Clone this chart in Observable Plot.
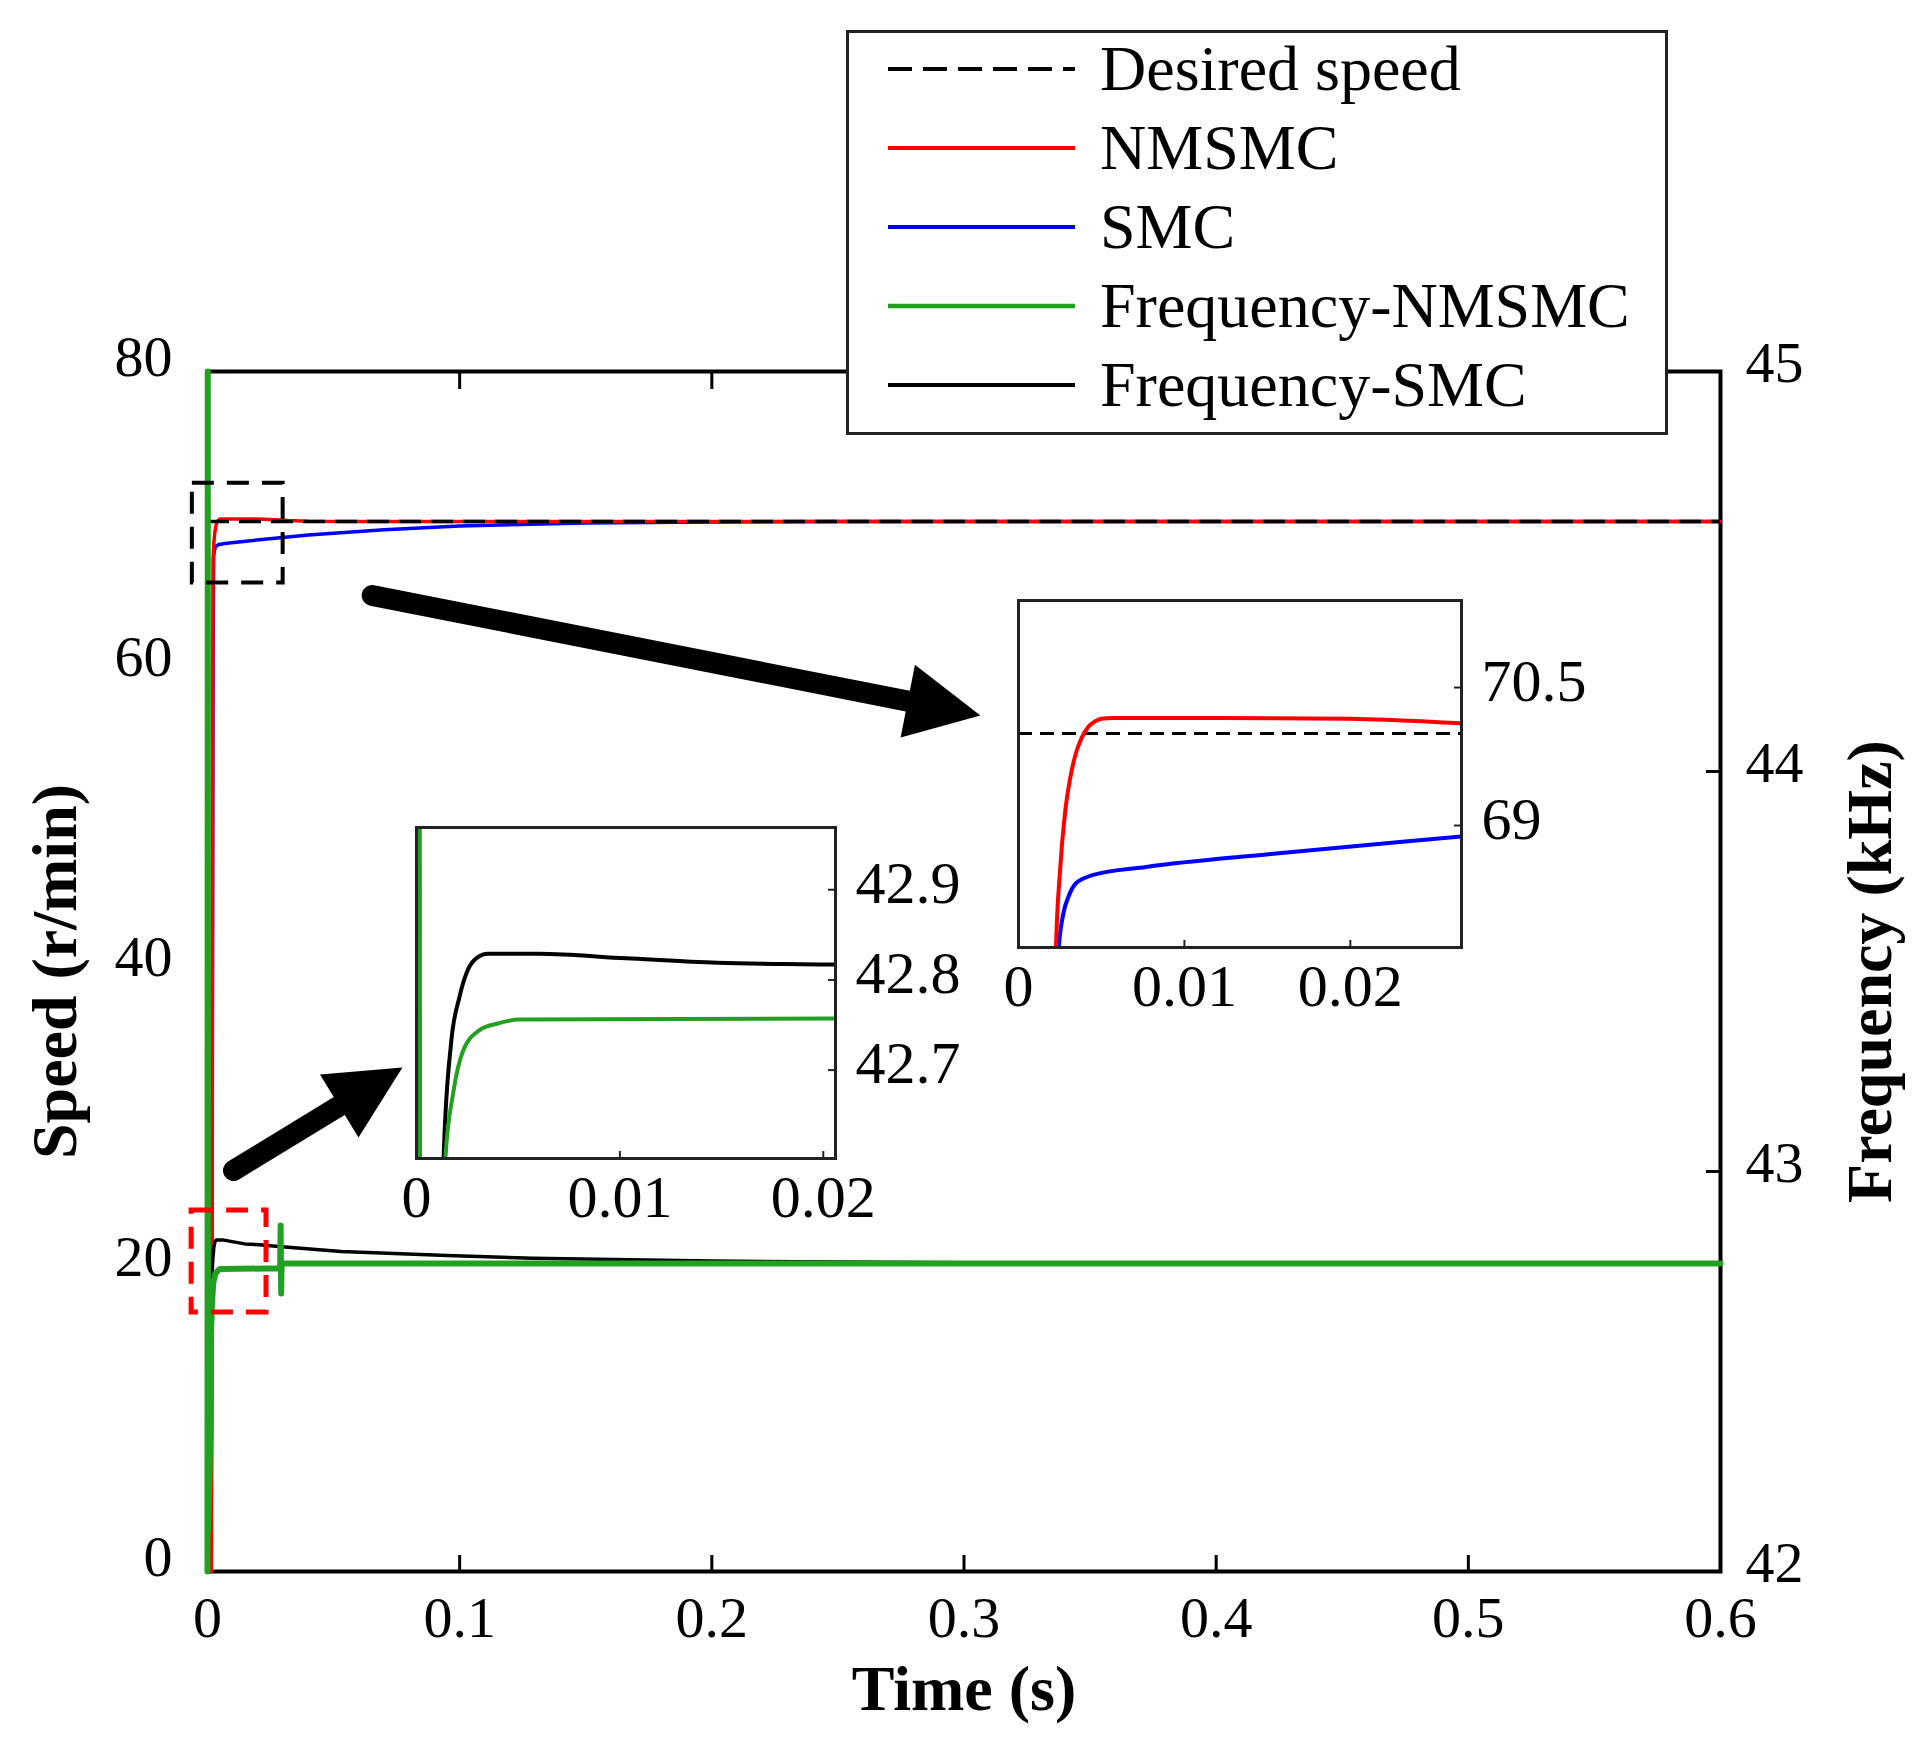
<!DOCTYPE html>
<html>
<head>
<meta charset="utf-8">
<script src="https://cdn.jsdelivr.net/npm/d3@7"></script>
<script src="https://cdn.jsdelivr.net/npm/@observablehq/plot@0.6"></script>
<style>
  body { margin: 0; background: #fff; }
  #wrap { position: relative; width: 1925px; height: 1750px; font-family: "Liberation Serif", "Times New Roman", serif; }
  #wrap svg { position: absolute; }
  #legend { position: absolute; left: 846px; top: 30px; width: 816px; height: 399px; border: 3px solid #222; background: #fff; }
  .legend-row { position: absolute; left: 0; height: 80px; display: flex; align-items: center; }
  .legend-row span { font-size: 64px; line-height: 80px; color: #000; }
</style>
</head>
<body>
<div id="wrap"></div>
<script>
// speed curves, [time (s), speed (r/min)]
const nmsmc = [
  [0, 0], [0.0015, 0], [0.0018, 25], [0.002, 50], [0.0021, 60], [0.0022, 66],
  [0.00225, 67.6], [0.0025, 68.5], [0.0028, 69.13], [0.0031, 69.5], [0.00345, 69.78],
  [0.0038, 69.95], [0.0042, 70.07], [0.0046, 70.13], [0.005, 70.16], [0.0057, 70.17],
  [0.012, 70.17], [0.02, 70.16], [0.0267, 70.11], [0.032, 70.06], [0.04, 70.02],
  [0.06, 70], [0.6, 70]
];
const smc = [
  [0, 0], [0.0015, 0], [0.0019, 30], [0.0022, 60], [0.0024, 67.6], [0.0027, 68.04],
  [0.003, 68.22], [0.00345, 68.37], [0.00445, 68.46], [0.0077, 68.55], [0.0152, 68.69],
  [0.0267, 68.88], [0.04, 69.1], [0.07, 69.45], [0.1, 69.7], [0.15, 69.9],
  [0.2, 69.97], [0.25, 70], [0.6, 70]
];
const desiredSpeed = 70;

// switching frequency curves, [time (s), frequency (kHz)]
const freqNmsmc = [
  [0, 42], [0.0001, 45], [0.0002, 42.1], [0.0012, 42.35], [0.00142, 42.602],
  [0.0018, 42.674], [0.0023, 42.722], [0.00308, 42.744], [0.00405, 42.752],
  [0.005, 42.756], [0.0288, 42.758], [0.029, 42.865], [0.0292, 42.695],
  [0.0294, 42.77], [0.6, 42.77]
];
const freqSmc = [
  [0, 42.43], [0.0012, 42.43], [0.00133, 42.6], [0.0017, 42.73], [0.0021, 42.78],
  [0.0025, 42.81], [0.003, 42.825], [0.0035, 42.829], [0.006, 42.829], [0.0103, 42.824],
  [0.0148, 42.819], [0.0206, 42.817], [0.027, 42.813], [0.053, 42.8], [0.095, 42.79],
  [0.129, 42.783], [0.2, 42.776], [0.3, 42.772], [0.6, 42.772]
];

// axes
const timeTicks = [0, 0.1, 0.2, 0.3, 0.4, 0.5, 0.6];
const speedTicks = [0, 20, 40, 60, 80];
const freqTicks = [42, 43, 44, 45];
const inset1TimeTicks = [0, 0.01, 0.02];
const inset1SpeedTicks = [69, 70.5];
const inset2TimeTicks = [0, 0.01, 0.02];
const inset2FreqTicks = [42.7, 42.8, 42.9];

// dashed zoom boxes and arrows, in data units (time, speed)
const speedZoomBox = {t1: -0.006, t2: 0.030, v1: 65.9, v2: 72.55};
const freqZoomBox = {t1: -0.0063, t2: 0.0234, v1: 17.27, v2: 24.07};
const arrowTails = [[0.0653, 65.07], [0.0103, 26.73]];
const arrowTips = [[0.3065, 57.07], [0.0773, 33.6]];

const seriesNames = ["Desired speed", "NMSMC", "SMC", "Frequency-NMSMC", "Frequency-SMC"];
const seriesColors = ["#000000", "#ff0000", "#0000ff", "#22a022", "#000000"];

const FONT = "Liberation Serif";
const GREEN = seriesColors[3];

// frequency (42..45 kHz) drawn against the speed scale (0..80)
const toLeft = (f) => ((f - 42) / 3) * 80;

const W = 1925, H = 1750;
const M = {left: 207, right: 205, top: 371, bottom: 179};
const plotW = W - M.left - M.right;
const plotH = H - M.top - M.bottom;
const kx = plotW / 0.6;
const ky = plotH / 80;

// arrow heads: base point and rotation worked out in pixel space
const HEAD = 74;
const arrows = arrowTails.map((tail, i) => {
  const tip = arrowTips[i];
  const dx = (tip[0] - tail[0]) * kx;
  const dy = -(tip[1] - tail[1]) * ky;
  const len = Math.hypot(dx, dy);
  const ux = dx / len, uy = dy / len;
  return {
    t1: tail[0], v1: tail[1],
    bt: tip[0] - (HEAD * ux) / kx,
    bv: tip[1] + (HEAD * uy) / ky,
    angle: (Math.atan2(ux, -uy) * 180) / Math.PI,
  };
});

const wrap = document.getElementById("wrap");

const main = Plot.plot({
  width: W,
  height: H,
  marginLeft: M.left,
  marginRight: M.right,
  marginTop: M.top,
  marginBottom: M.bottom,
  x: {domain: [0, 0.6]},
  y: {domain: [0, 80]},
  style: {fontFamily: FONT, background: "transparent", overflow: "visible", color: "#000"},
  marks: [
    Plot.frame({stroke: "#000", strokeWidth: 4}),
    Plot.line(smc, {x: (d) => d[0], y: (d) => d[1], stroke: seriesColors[2], strokeWidth: 3.5}),
    Plot.line(nmsmc, {x: (d) => d[0], y: (d) => d[1], stroke: seriesColors[1], strokeWidth: 3.5}),
    Plot.ruleY([desiredSpeed], {stroke: "#000", strokeWidth: 3.5, strokeDasharray: "22,10"}),
    Plot.line(freqSmc, {x: (d) => d[0], y: (d) => toLeft(d[1]), stroke: seriesColors[4], strokeWidth: 3.5}),
    Plot.line(freqNmsmc, {x: (d) => d[0], y: (d) => toLeft(d[1]), stroke: GREEN, strokeWidth: 6}),

    Plot.rect([speedZoomBox], {
      x1: "t1", x2: "t2", y1: "v1", y2: "v2",
      fill: "none", stroke: "#000", strokeWidth: 4, strokeDasharray: "22,13",
    }),
    Plot.rect([freqZoomBox], {
      x1: "t1", x2: "t2", y1: "v1", y2: "v2",
      fill: "none", stroke: "#ff0000", strokeWidth: 5, strokeDasharray: "22,13",
    }),

    Plot.link(arrows, {
      x1: "t1", y1: "v1", x2: "bt", y2: "bv",
      stroke: "#000", strokeWidth: 21, strokeLinecap: "round",
    }),
    Plot.vector(arrows, {
      x: "bt", y: "bv", rotate: "angle", length: HEAD, r: 37,
      shape: "spike", anchor: "start", fill: "#000", stroke: "none",
    }),

    // inward tick marks
    Plot.ruleX(timeTicks.slice(1, -1), {y1: 0, y2: 16 / ky, stroke: "#000", strokeWidth: 3}),
    Plot.ruleX(timeTicks.slice(1, -1), {y1: 80, y2: 80 - 18 / ky, stroke: "#000", strokeWidth: 3}),
    Plot.ruleY(freqTicks.slice(1, -1).map(toLeft), {x1: 0.6, x2: 0.6 - 14 / kx, stroke: "#000", strokeWidth: 3}),

    Plot.axisX(timeTicks, {
      anchor: "bottom", tickSize: 0, tickPadding: 24, fontSize: 58,
      tickFormat: (d) => String(d), label: null,
    }),
    Plot.axisY(speedTicks, {
      anchor: "left", tickSize: 0, tickPadding: 35, fontSize: 58, dy: -14,
      tickFormat: (d) => String(d), label: null,
    }),
    Plot.axisY(freqTicks.map(toLeft), {
      anchor: "right", tickSize: 0, tickPadding: 25, fontSize: 58, dy: -8,
      tickFormat: (d) => String(Math.round(42 + (d * 3) / 80)), label: null,
    }),

    Plot.text(["Speed (r/min)"], {
      frameAnchor: "left", dx: -152, rotate: -90, textAnchor: "middle",
      fontSize: 64, fontWeight: "bold",
    }),
    Plot.text(["Frequency (kHz)"], {
      frameAnchor: "right", dx: 150, rotate: -90, textAnchor: "middle",
      fontSize: 64, fontWeight: "bold",
    }),
    Plot.text(["Time (s)"], {
      frameAnchor: "bottom", dy: 138, textAnchor: "middle",
      fontSize: 64, fontWeight: "bold",
    }),
  ],
});
main.style.left = "0px";
main.style.top = "0px";
wrap.appendChild(main);

// zoomed views
function makeInset(cfg) {
  const ml = 45, mr = 170, mt = 10, mb = 90;
  const bw = cfg.box.right - cfg.box.left;
  const bh = cfg.box.bottom - cfg.box.top;
  const ikx = bw / (cfg.xDomain[1] - cfg.xDomain[0]);
  const iky = bh / (cfg.yDomain[1] - cfg.yDomain[0]);
  const y0 = cfg.yDomain[0];
  const x1 = cfg.xDomain[1];

  const chart = Plot.plot({
    width: bw + ml + mr,
    height: bh + mt + mb,
    marginLeft: ml,
    marginRight: mr,
    marginTop: mt,
    marginBottom: mb,
    x: {domain: cfg.xDomain},
    y: {domain: cfg.yDomain},
    style: {fontFamily: FONT, background: "transparent", overflow: "visible", color: "#000"},
    marks: [
      Plot.frame({fill: "#fff", stroke: "none"}),
      ...cfg.marks,
      Plot.frame({stroke: "#222", strokeWidth: 3}),
      Plot.ruleX(cfg.xTicks.filter((d) => d > cfg.xDomain[0]), {
        y1: y0, y2: y0 + 7 / iky, stroke: "#222", strokeWidth: 2,
      }),
      Plot.ruleY(cfg.yTicks, {x1: x1, x2: x1 - 7 / ikx, stroke: "#222", strokeWidth: 2}),
      Plot.axisX(cfg.xTicks, {
        anchor: "bottom", tickSize: 0, tickPadding: 16, fontSize: 60,
        tickFormat: (d) => String(d), label: null,
      }),
      Plot.axisY(cfg.yTicks, {
        anchor: "right", tickSize: 0, tickPadding: 20, fontSize: 60, dy: -6,
        tickFormat: (d) => String(d), label: null,
      }),
    ],
  });
  chart.style.left = `${cfg.box.left - ml}px`;
  chart.style.top = `${cfg.box.top - mt}px`;
  wrap.appendChild(chart);
}

makeInset({
  box: {left: 1018, top: 600, right: 1461, bottom: 947},
  xDomain: [0, 0.0267],
  yDomain: [67.674, 71.446],
  xTicks: inset1TimeTicks,
  yTicks: inset1SpeedTicks,
  marks: [
    Plot.ruleY([desiredSpeed], {stroke: "#000", strokeWidth: 3, strokeDasharray: "14,8"}),
    Plot.line(smc, {x: (d) => d[0], y: (d) => d[1], stroke: seriesColors[2], strokeWidth: 4, clip: true, curve: "monotone-x"}),
    Plot.line(nmsmc, {x: (d) => d[0], y: (d) => d[1], stroke: seriesColors[1], strokeWidth: 4, clip: true, curve: "monotone-x"}),
  ],
});

makeInset({
  box: {left: 416, top: 827, right: 835, bottom: 1158},
  xDomain: [0, 0.0206],
  yDomain: [42.602, 42.969],
  xTicks: inset2TimeTicks,
  yTicks: inset2FreqTicks,
  marks: [
    Plot.line(freqSmc, {x: (d) => d[0], y: (d) => d[1], stroke: seriesColors[4], strokeWidth: 4, clip: true, curve: "monotone-x"}),
    Plot.line(freqNmsmc, {x: (d) => d[0], y: (d) => d[1], stroke: GREEN, strokeWidth: 4, clip: true, curve: "monotone-x"}),
  ],
});

// legend
const legend = document.createElement("div");
legend.id = "legend";
seriesNames.forEach((name, i) => {
  const row = document.createElement("div");
  row.className = "legend-row";
  row.style.top = `${36 + i * 79 - 40}px`;
  const sw = d3.create("svg")
    .attr("width", 251)
    .attr("height", 80)
    .style("position", "static");
  sw.append("line")
    .attr("x1", 39).attr("x2", 226)
    .attr("y1", 40).attr("y2", 40)
    .attr("stroke", seriesColors[i])
    .attr("stroke-width", i === 3 ? 4.5 : 4)
    .attr("stroke-dasharray", i === 0 ? "24,11" : null);
  row.appendChild(sw.node());
  const label = document.createElement("span");
  label.textContent = name;
  row.appendChild(label);
  legend.appendChild(row);
});
wrap.appendChild(legend);
</script>
</body>
</html>
